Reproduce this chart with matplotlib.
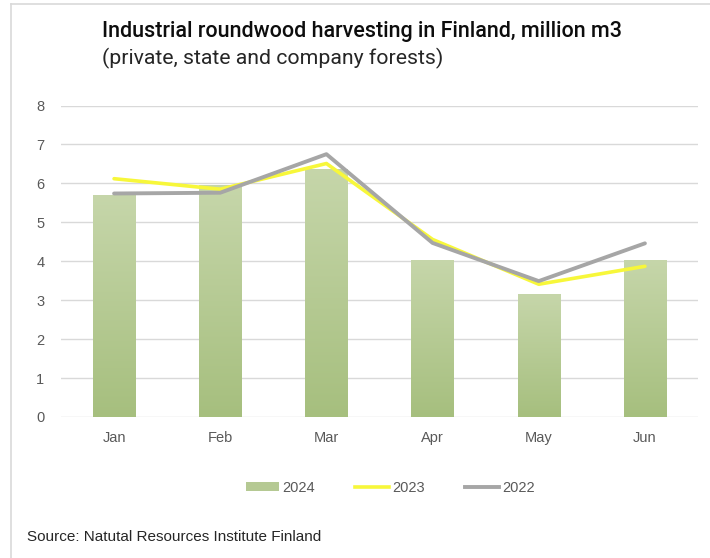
import matplotlib
matplotlib.use("Agg")
import matplotlib.pyplot as plt
import numpy as np
from matplotlib.lines import Line2D
from matplotlib.patches import Patch
from matplotlib import font_manager
from matplotlib.colors import LinearSegmentedColormap

months = ["Jan", "Feb", "Mar", "Apr", "May", "Jun"]
h2024 = [5.69, 5.97, 6.37, 4.04, 3.15, 4.04]
h2023 = [6.12, 5.85, 6.51, 4.56, 3.41, 3.87]
h2022 = [5.74, 5.76, 6.75, 4.47, 3.49, 4.46]
yticks = [0, 1, 2, 3, 4, 5, 6, 7, 8]

names = {f.name for f in font_manager.fontManager.ttflist}
narrow = "Liberation Sans Narrow" if "Liberation Sans Narrow" in names else "Roboto"
base = "Liberation Sans" if "Liberation Sans" in names else "DejaVu Sans"

fig = plt.figure(figsize=(7.1, 5.58), dpi=100)
ax = fig.add_axes([61/710, 1-417/558, (698-61)/710, (417-105.5)/558])

x = np.arange(len(months))
bars = ax.bar(x, h2024, width=0.4, color="#b5c993", zorder=2)
grad = np.linspace(0, 1, 256).reshape(-1, 1)
cmap = LinearSegmentedColormap.from_list("g", ["#a6bf7e", "#c6d6aa"])
for b in bars:
    bx, by = b.get_x(), b.get_y()
    w, h = b.get_width(), b.get_height()
    im = ax.imshow(grad, extent=[bx, bx + w, by, by + h], origin="lower",
                   cmap=cmap, aspect="auto", zorder=2.1)
    im.set_clip_path(b)

ax.plot(x, h2023, color="#f7f73a", lw=2.6, zorder=3, solid_capstyle="round")
ax.plot(x, h2022, color="#a6a6a6", lw=2.8, zorder=4, solid_capstyle="round")

ax.set_xlim(-0.5, len(months) - 0.5)
ax.set_ylim(0, 8)
ax.set_yticks(yticks)
ax.set_xticks(x)
ax.set_xticklabels(months)
ax.yaxis.grid(True, color="#d9d9d9", lw=1.0, zorder=0)
ax.set_axisbelow(True)
for s in ax.spines.values():
    s.set_visible(False)
ax.tick_params(length=0, colors="#595959", labelsize=10.5)
for lab in ax.get_xticklabels() + ax.get_yticklabels():
    lab.set_fontfamily(base)
ax.tick_params(axis="y", pad=12)
ax.tick_params(axis="x", pad=10)

fig.text(102/710, 1-31/558, "Industrial roundwood harvesting in Finland, million m3",
         fontsize=15.5, family=narrow, weight="medium", color="#0d0d0d",
         va="center", ha="left")
fig.text(102/710, 1-58/558, "(private, state and company forests)",
         fontsize=15.3, family=narrow, color="#262626", va="center", ha="left")

handles = [Patch(facecolor="#b5c993", edgecolor="none"),
           Line2D([], [], color="#f7f73a", lw=2.6),
           Line2D([], [], color="#a6a6a6", lw=2.8)]
leg = fig.legend(handles, ["2024", "2023", "2022"], loc="center",
                 bbox_to_anchor=(390/710, 1-488/558), ncol=3, frameon=False,
                 handlelength=2.3, handleheight=0.55, handletextpad=0.2,
                 columnspacing=2.8,
                 prop={"family": base, "size": 10.5})
for t in leg.get_texts():
    t.set_color("#595959")

fig.text(27/710, 1-537/558, "Source: Natutal Resources Institute Finland",
         fontsize=11, family=base, color="#262626", va="center", ha="left")

fig.add_artist(Line2D([11/710, 11/710], [0, 1-4/558], color="#d9d9d9", lw=1.2,
                      transform=fig.transFigure))
fig.add_artist(Line2D([11/710, 1], [1-4/558, 1-4/558], color="#d9d9d9", lw=1.2,
                      transform=fig.transFigure))

fig.savefig("out.png", dpi=100, facecolor="white")
